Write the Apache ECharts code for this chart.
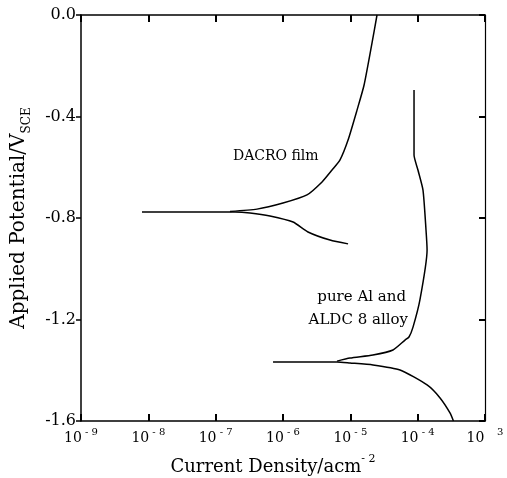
<!DOCTYPE html>
<html>
<head>
<meta charset="utf-8">
<script src="https://cdn.jsdelivr.net/npm/echarts@6/dist/echarts.min.js"></script>
<style>
  html, body { margin: 0; padding: 0; background: #fff; }
  #chart { width: 507px; height: 478px; }
</style>
</head>
<body>
<div id="chart"></div>
<script>
/** polarization curves */
var xTickExp = [-9, -8, -7, -6, -5, -4, -3];
var yTicks = [0.0, -0.4, -0.8, -1.2, -1.6];

// DACRO film
var dacroCathI = [8.05e-9, 5.85e-8, 1.94e-7, 3.24e-7, 6.41e-7, 1.41e-6, 2.35e-6, 4.99e-6, 9.25e-6];
var dacroCathE = [-0.776, -0.776, -0.776, -0.780, -0.792, -0.816, -0.855, -0.887, -0.902];
var dacroAnodI = [1.63e-7, 4.11e-7, 1.0e-6, 2.27e-6, 3.8e-6, 5.35e-6, 7.03e-6, 9.25e-6, 1.26e-5, 1.6e-5, 2.1e-5, 2.49e-5];
var dacroAnodE = [-0.774, -0.765, -0.741, -0.709, -0.658, -0.611, -0.571, -0.493, -0.374, -0.276, -0.110, 0.0];

// pure Al and ALDC 8 alloy
var alCathI = [7.11e-7, 6.34e-6, 9.88e-6, 2.17e-5, 5.47e-5, 1.38e-4, 2.15e-4, 3.02e-4, 3.4e-4];
var alCathE = [-1.367, -1.367, -1.371, -1.379, -1.399, -1.458, -1.509, -1.568, -1.600];
var alAnodI = [6.34e-6, 9.88e-6, 2.17e-5, 4.3e-5, 6.49e-5, 7.43e-5, 8.53e-5, 1.08e-4, 1.38e-4, 1.33e-4, 1.2e-4, 1.01e-4, 8.83e-5, 8.83e-5];
var alAnodE = [-1.364, -1.352, -1.340, -1.320, -1.281, -1.269, -1.230, -1.123, -0.926, -0.847, -0.690, -0.611, -0.552, -0.296];

// x axis is drawn in decades: log10 of current density
function pairs(xs, ys) {
  return xs.map(function (x, i) { return [Math.log10(x), ys[i]]; });
}

var font = 'DejaVu Serif';

function curve(name, xs, ys) {
  return {
    name: name,
    type: 'line',
    data: pairs(xs, ys),
    showSymbol: false,
    smooth: 0.2,
    lineStyle: { color: '#000', width: 1.5 },
    silent: true
  };
}

var chart = echarts.init(document.getElementById('chart'));
var option = {
  animation: false,
  backgroundColor: '#fff',
  grid: { left: 81, right: 22, top: 15, bottom: 57, outerBoundsMode: 'none', containLabel: false },
  xAxis: [{
    type: 'value',
    min: xTickExp[0],
    max: xTickExp[xTickExp.length - 1],
    interval: 1,
    position: 'bottom',
    name: '{a|Current Density/acm}{s|- 2}',
    nameLocation: 'middle',
    nameGap: 33,
    nameTextStyle: {
      padding: [0, 20, 0, 0],
      rich: {
        a: { fontFamily: font, fontSize: 18, color: '#000', lineHeight: 22, verticalAlign: 'bottom' },
        s: { fontFamily: font, fontSize: 11, color: '#000', verticalAlign: 'top' }
      }
    },
    axisLine: { onZero: false, lineStyle: { color: '#000', width: 1.5 } },
    axisTick: { show: true, inside: true, length: 7, lineStyle: { color: '#000', width: 2 } },
    splitLine: { show: false },
    axisLabel: {
      margin: 6,
      formatter: function (v) {
        var e = Math.round(v);
        if (e === -3) return '{a|10}{s|    3}';
        return '{a|10}{s| - ' + (-e) + '}';
      },
      rich: {
        a: { fontFamily: font, fontSize: 14, color: '#000', lineHeight: 18, verticalAlign: 'bottom' },
        s: { fontFamily: font, fontSize: 10, color: '#000', verticalAlign: 'top' }
      }
    }
  }, {
    type: 'value',
    min: xTickExp[0],
    max: xTickExp[xTickExp.length - 1],
    interval: 1,
    position: 'top',
    axisLine: { onZero: false, lineStyle: { color: '#000', width: 1.5 } },
    axisTick: { show: true, inside: true, length: 7, lineStyle: { color: '#000', width: 2 } },
    axisLabel: { show: false },
    splitLine: { show: false }
  }],
  yAxis: [{
    type: 'value',
    min: yTicks[yTicks.length - 1],
    max: yTicks[0],
    interval: 0.4,
    position: 'left',
    name: '{a|Applied Potential/V}{s|SCE}',
    nameLocation: 'middle',
    nameGap: 48,
    nameTextStyle: {
      rich: {
        a: { fontFamily: font, fontSize: 20, color: '#000', lineHeight: 24, verticalAlign: 'top' },
        s: { fontFamily: font, fontSize: 12, color: '#000', verticalAlign: 'bottom' }
      }
    },
    axisLine: { onZero: false, lineStyle: { color: '#000', width: 1.5 } },
    axisTick: { show: true, inside: false, length: 5, lineStyle: { color: '#000', width: 1.5 } },
    splitLine: { show: false },
    axisLabel: {
      margin: 5,
      fontFamily: font,
      fontSize: 16,
      color: '#000',
      formatter: function (v) { return v.toFixed(1); }
    }
  }, {
    type: 'value',
    min: yTicks[yTicks.length - 1],
    max: yTicks[0],
    interval: 0.4,
    position: 'right',
    axisLine: { onZero: false, lineStyle: { color: '#000', width: 1.2 } },
    axisTick: { show: true, inside: true, length: 6, lineStyle: { color: '#000', width: 2 } },
    axisLabel: { show: false },
    splitLine: { show: false }
  }],
  graphic: [{
    type: 'text',
    style: { x: 233, y: 156, text: 'DACRO film', font: '14px "DejaVu Serif"', fill: '#000', textVerticalAlign: 'middle' }
  }, {
    type: 'text',
    style: { x: 406, y: 297, text: 'pure Al and', font: '15px "DejaVu Serif"', fill: '#000', textAlign: 'right', textVerticalAlign: 'middle' }
  }, {
    type: 'text',
    style: { x: 408, y: 320, text: 'ALDC 8 alloy', font: '15px "DejaVu Serif"', fill: '#000', textAlign: 'right', textVerticalAlign: 'middle' }
  }],
  series: [
    curve('DACRO film cathodic', dacroCathI, dacroCathE),
    curve('DACRO film anodic', dacroAnodI, dacroAnodE),
    curve('pure Al cathodic', alCathI, alCathE),
    curve('pure Al anodic', alAnodI, alAnodE)
  ]
};

chart.setOption(option);
</script>
</body>
</html>
